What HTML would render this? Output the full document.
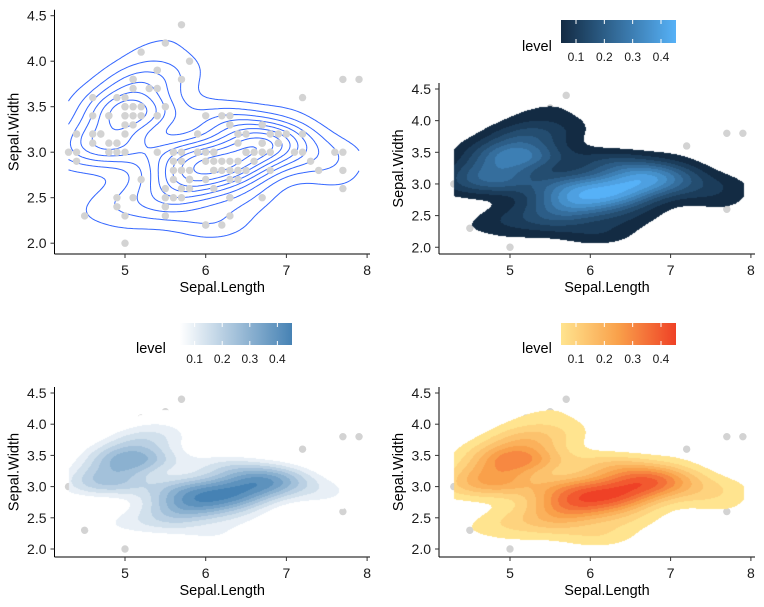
<!DOCTYPE html>
<html><head><meta charset="utf-8">
<style>
html,body{margin:0;padding:0;background:#fff;}
#wrap{position:relative;width:764px;height:607px;overflow:hidden;font-family:"Liberation Sans",sans-serif;}
svg,canvas{position:absolute;left:0;top:0;}
</style></head>
<body>
<div id="wrap">
<svg id="under" width="764" height="607"></svg>
<canvas id="cv" width="764" height="607"></canvas>
<svg id="top" width="764" height="607"><defs id="defs"></defs></svg>
</div>
<script>
const SL=[5.1,4.9,4.7,4.6,5.0,5.4,4.6,5.0,4.4,4.9,5.4,4.8,4.8,4.3,5.8,5.7,5.4,5.1,5.7,5.1,5.4,5.1,4.6,5.1,4.8,5.0,5.0,5.2,5.2,4.7,4.8,5.4,5.2,5.5,4.9,5.0,5.5,4.9,4.4,5.1,5.0,4.5,4.4,5.0,5.1,4.8,5.1,4.6,5.3,5.0,
7.0,6.4,6.9,5.5,6.5,5.7,6.3,4.9,6.6,5.2,5.0,5.9,6.0,6.1,5.6,6.7,5.6,5.8,6.2,5.6,5.9,6.1,6.3,6.1,6.4,6.6,6.8,6.7,6.0,5.7,5.5,5.5,5.8,6.0,5.4,6.0,6.7,6.3,5.6,5.5,5.5,6.1,5.8,5.0,5.6,5.7,5.7,6.2,5.1,5.7,
6.3,5.8,7.1,6.3,6.5,7.6,4.9,7.3,6.7,7.2,6.5,6.4,6.8,5.7,5.8,6.4,6.5,7.7,7.7,6.0,6.9,5.6,7.7,6.3,6.7,7.2,6.2,6.1,6.4,7.2,7.4,7.9,6.4,6.3,6.1,7.7,6.3,6.4,6.0,6.9,6.7,6.9,5.8,6.8,6.7,6.7,6.3,6.5,6.2,5.9];
const SW=[3.5,3.0,3.2,3.1,3.6,3.9,3.4,3.4,2.9,3.1,3.7,3.4,3.0,3.0,4.0,4.4,3.9,3.5,3.8,3.8,3.4,3.7,3.6,3.3,3.4,3.0,3.4,3.5,3.4,3.2,3.1,3.4,4.1,4.2,3.1,3.2,3.5,3.6,3.0,3.4,3.5,2.3,3.2,3.5,3.8,3.0,3.8,3.2,3.7,3.3,
3.2,3.2,3.1,2.3,2.8,2.8,3.3,2.4,2.9,2.7,2.0,3.0,2.2,2.9,2.9,3.1,3.0,2.7,2.2,2.5,3.2,2.8,2.5,2.8,2.9,3.0,2.8,3.0,2.9,2.6,2.4,2.4,2.7,2.7,3.0,3.4,3.1,2.3,3.0,2.5,2.6,3.0,2.6,2.3,2.7,3.0,2.9,2.9,2.5,2.8,
3.3,2.7,3.0,2.9,3.0,3.0,2.5,2.9,2.5,3.6,3.2,2.7,3.0,2.5,2.8,3.2,3.0,3.8,2.6,2.2,3.2,2.8,2.8,2.7,3.3,3.2,2.8,3.0,2.8,3.0,2.8,3.8,2.8,2.8,2.6,3.0,3.4,3.1,3.0,3.1,3.1,3.1,2.7,3.2,3.3,3.0,2.5,3.0,3.4,3.0];
const levels=[0.05,0.10,0.15,0.20,0.25,0.30,0.35,0.40,0.45];
const xTicks=[5,6,7,8];
const yTicks=[2.0,2.5,3.0,3.5,4.0,4.5];
const legendTicks=[0.1,0.2,0.3,0.4];

const NS="http://www.w3.org/2000/svg";
const under=document.getElementById('under'), top_=document.getElementById('top'), defs=document.getElementById('defs');
const ctx=document.getElementById('cv').getContext('2d');
const n=SL.length;
function sd(a){const m=a.reduce((s,v)=>s+v,0)/a.length;return Math.sqrt(a.reduce((s,v)=>s+(v-m)*(v-m),0)/(a.length-1));}
function q(a,p){const s=[...a].sort((x,y)=>x-y);const h=(s.length-1)*p,l=Math.floor(h);return s[l]+(h-l)*(s[l+1]-s[l]);}
function bw(a){return 4*1.06*Math.min(sd(a),(q(a,.75)-q(a,.25))/1.34)*Math.pow(a.length,-0.2);}
const hx=bw(SL)/4, hy=bw(SW)/4;
const xmin=Math.min(...SL),xmax=Math.max(...SL),ymin=Math.min(...SW),ymax=Math.max(...SW);
function dens(x,y){let s=0;for(let i=0;i<n;i++){const a=(x-SL[i])/hx,b=(y-SW[i])/hy;s+=Math.exp(-0.5*(a*a+b*b));}return s/(n*2*Math.PI*hx*hy);}

function mk(parent,tag,attrs){const e=document.createElementNS(NS,tag);for(const k in attrs)e.setAttribute(k,attrs[k]);parent.appendChild(e);return e;}
function hex(c){return [parseInt(c.slice(1,3),16),parseInt(c.slice(3,5),16),parseInt(c.slice(5,7),16)];}
function mixer(stops){const cs=stops.map(hex);return t=>{t=Math.max(0,Math.min(1,t));const f=t*(cs.length-1),i=Math.min(cs.length-2,Math.floor(f)),r=f-i;return cs[i].map((v,k)=>Math.round(v+(cs[i+1][k]-v)*r));};}
const palDark=mixer(["#132B43","#56B1F7"]);
const palBlue=mixer(["#FFFFFF","#4682B4"]);
const palYR=mixer(["#FFE48F","#F9A04A","#EF4126"]);
const LO=0.05,HI=0.45;

const panels=[
 {id:'p1',x0:125,xs:80.7,y45:15.7,ys:91,ax:54.5,ay:254,xr:370,type:'lines'},
 {id:'p2',x0:510,xs:80.3,y45:89,ys:63.3,ax:439,ay:254,xr:755,type:'fill',pal:palDark,leg:{lx:522,bx:561,bw:115,by:20,bh:23}},
 {id:'p3',x0:125,xs:80.7,y45:393,ys:62.4,ax:54.5,ay:557,xr:370,type:'fill',pal:palBlue,leg:{lx:136,bx:180,bw:112,by:323,bh:22}},
 {id:'p4',x0:510,xs:80.3,y45:393,ys:62.4,ax:439,ay:557,xr:755,type:'fill',pal:palYR,leg:{lx:522,bx:561,bw:115,by:323,bh:22}}
];

panels.forEach(P=>{
 const X=v=>P.x0+(v-5)*P.xs, Y=v=>P.y45+(4.5-v)*P.ys;
 const ptLayer = P.type==='lines' ? top_ : under;
 const g=mk(ptLayer,'g',{});
 
 
 if(P.type==='fill'){
  const px0=Math.round(X(xmin)),px1=Math.round(X(xmax)),py0=Math.round(Y(ymax)),py1=Math.round(Y(ymin));
  const W=px1-px0+1,H=py1-py0+1;
  const ex=[],ey=[];
  for(let i=0;i<n;i++){const a=new Float64Array(W),b=new Float64Array(H);
   for(let p=0;p<W;p++){const v=(xmin+(p)/(W-1)*(xmax-xmin)-SL[i])/hx;a[p]=Math.exp(-0.5*v*v);}
   for(let p=0;p<H;p++){const v=(ymax-(p)/(H-1)*(ymax-ymin)-SW[i])/hy;b[p]=Math.exp(-0.5*v*v);}
   ex.push(a);ey.push(b);}
  const img=ctx.getImageData(px0,py0,W,H);const norm=1/(n*2*Math.PI*hx*hy);
  for(let r=0;r<H;r++)for(let c=0;c<W;c++){let s=0;for(let i=0;i<n;i++)s+=ex[i][c]*ey[i][r];s*=norm;
   let L=-1;for(let k=levels.length-1;k>=0;k--){if(s>=levels[k]){L=levels[k];break;}}
   if(L<0)continue;const col=P.pal((L-LO)/(HI-LO));const o=(r*W+c)*4;
   img.data[o]=col[0];img.data[o+1]=col[1];img.data[o+2]=col[2];img.data[o+3]=255;}
  ctx.putImageData(img,px0,py0);
 } else {
  const N=100,gx=[],gy=[],Z=[];
  for(let i=0;i<N;i++){gx.push(xmin+i*(xmax-xmin)/(N-1));gy.push(ymin+i*(ymax-ymin)/(N-1));}
  for(let i=0;i<N;i++){Z.push([]);for(let j=0;j<N;j++)Z[i].push(dens(gx[i],gy[j]));}
  levels.forEach(L=>{
   let d="";
   for(let i=0;i<N-1;i++)for(let j=0;j<N-1;j++){
    const c=[[gx[i],gy[j],Z[i][j]],[gx[i+1],gy[j],Z[i+1][j]],[gx[i+1],gy[j+1],Z[i+1][j+1]],[gx[i],gy[j+1],Z[i][j+1]]];
    const pts=[];
    for(let e=0;e<4;e++){const a=c[e],b=c[(e+1)%4];
     if((a[2]<L)!==(b[2]<L)){const t=(L-a[2])/(b[2]-a[2]);pts.push([a[0]+t*(b[0]-a[0]),a[1]+t*(b[1]-a[1])]);}}
    for(let k=0;k+1<pts.length;k+=2)d+="M"+X(pts[k][0]).toFixed(1)+","+Y(pts[k][1]).toFixed(1)+"L"+X(pts[k+1][0]).toFixed(1)+","+Y(pts[k+1][1]).toFixed(1);
   }
   const p=mk(top_,'path',{d:d,stroke:'#3366FF','stroke-width':1,fill:'none'});
   
   
  });
  top_.appendChild(g);
 }
 for(let i=0;i<n;i++){
  const c=mk(g,'circle',{cx:X(SL[i]),cy:Y(SW[i]),r:3.7,fill:'#D3D3D3'});
  
  
 }
 const yTop=Y(4.5)-6;
 const ya=mk(top_,'line',{x1:P.ax,y1:yTop,x2:P.ax,y2:P.ay,stroke:'#000','stroke-width':1});
 
 const xa=mk(top_,'line',{x1:P.ax,y1:P.ay,x2:P.xr,y2:P.ay,stroke:'#000','stroke-width':1});
 
 xTicks.forEach(v=>{
  mk(top_,'line',{x1:X(v),y1:P.ay,x2:X(v),y2:P.ay+4,stroke:'#333','stroke-width':1});
  const t=mk(top_,'text',{x:X(v),y:P.ay+21,'text-anchor':'middle','font-size':14,fill:'#1a1a1a'});t.textContent=v;
  
 });
 yTicks.forEach(v=>{
  mk(top_,'line',{x1:P.ax-4,y1:Y(v),x2:P.ax,y2:Y(v),stroke:'#333','stroke-width':1});
  const t=mk(top_,'text',{x:P.ax-8,y:Y(v)+5,'text-anchor':'end','font-size':14,fill:'#1a1a1a'});t.textContent=v.toFixed(1);
  
 });
 const xt=mk(top_,'text',{x:(P.ax+P.xr)/2+10,y:P.ay+38,'text-anchor':'middle','font-size':14.5,fill:'#000'});xt.textContent='Sepal.Length';
 
 const cy=(yTop+P.ay)/2, tx=P.ax-36;
 const yt=mk(top_,'text',{x:tx,y:cy,'text-anchor':'middle','font-size':14.5,fill:'#000',transform:'rotate(-90 '+tx+' '+cy+')'});yt.textContent='Sepal.Width';
 
 if(P.leg){
  const Lg=P.leg;
  const gid='grad-'+P.id;
  const gr=mk(defs,'linearGradient',{id:gid,x1:0,x2:1,y1:0,y2:0});
  for(let k=0;k<=10;k++){const col=P.pal(k/10);mk(gr,'stop',{offset:k/10,'stop-color':'rgb('+col.join(',')+')'});}
  const lgG=mk(top_,'g',{});
  
  const ttl=mk(lgG,'text',{x:Lg.lx,y:Lg.by+Lg.bh+8,'font-size':14.5,fill:'#000'});ttl.textContent='level';
  
  const bar=mk(lgG,'rect',{x:Lg.bx,y:Lg.by,width:Lg.bw,height:Lg.bh,fill:'url(#'+gid+')'});
  
  const LX=v=>Lg.bx+(v-0.047)/(0.453-0.047)*Lg.bw;
  legendTicks.forEach(v=>{
   mk(lgG,'line',{x1:LX(v),y1:Lg.by,x2:LX(v),y2:Lg.by+4,stroke:'#fff','stroke-width':1});
   mk(lgG,'line',{x1:LX(v),y1:Lg.by+Lg.bh-4,x2:LX(v),y2:Lg.by+Lg.bh,stroke:'#fff','stroke-width':1});
   const t=mk(lgG,'text',{x:LX(v),y:Lg.by+Lg.bh+18,'text-anchor':'middle','font-size':12,fill:'#1a1a1a'});t.textContent=v.toFixed(1);
   
  });
 }
});
</script>
</body></html>
